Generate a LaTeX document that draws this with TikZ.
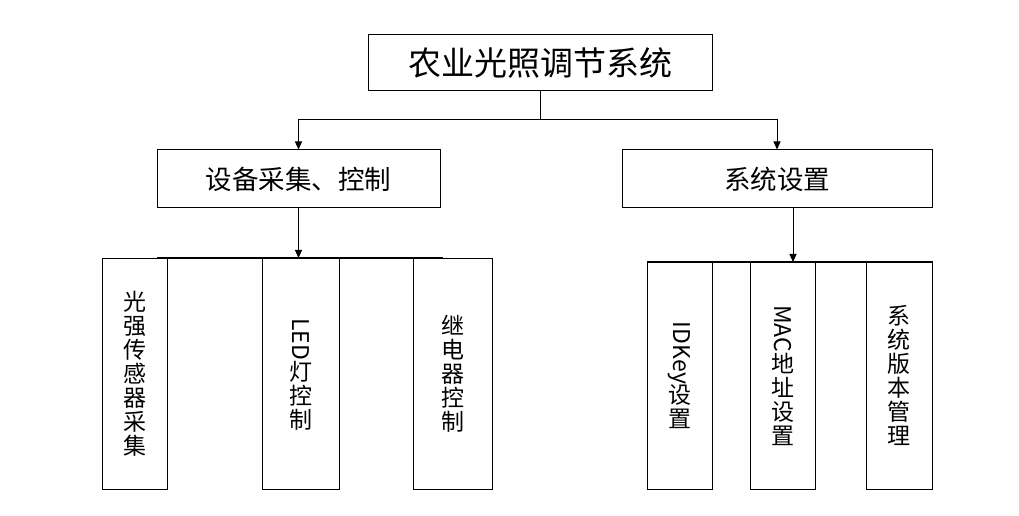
\documentclass[tikz,border=0pt]{standalone}
\usepackage{fontspec}
\usepackage{graphicx}
\newfontfamily\cjk{Noto Sans CJK SC}
\usetikzlibrary{arrows.meta}

\begin{document}
\begin{tikzpicture}[x = 1bp, y = -1bp]
\tikzstyle{BoxStyle}=[shape = rectangle,
                      draw,
                      line width = 1bp,
                      inner sep = 0pt]
\tikzstyle{LeafStyle}=[BoxStyle, align = center,
                       font = \cjk\fontsize{23bp}{24bp}\selectfont]
\tikzstyle{post}=[-{Triangle[length = 8bp, width = 7bp]}, line width = 1bp]
\useasboundingbox (0,0) rectangle (1019,516);
\node[BoxStyle, minimum width = 344bp, minimum height = 56bp, font = \cjk\fontsize{33bp}{36bp}\selectfont] (v0) at (540,63) {农业光照调节系统};
\node[BoxStyle, minimum width = 283bp, minimum height = 58bp, font = \cjk\fontsize{26.5bp}{30bp}\selectfont] (v1) at (298.5,179) {设备采集、控制};
\node[BoxStyle, minimum width = 310bp, minimum height = 58bp, font = \cjk\fontsize{26.5bp}{30bp}\selectfont] (v2) at (777,179) {系统设置};
\node[LeafStyle, minimum width = 65bp, minimum height = 230bp] (v3) at (134.5,374) {光\\强\\传\\感\\器\\采\\集};
\node[LeafStyle, minimum width = 77bp, minimum height = 230bp] (v4) at (300.5,374) {\rotatebox{-90}{LED}\\灯\\控\\制};
\node[LeafStyle, minimum width = 79bp, minimum height = 230bp] (v5) at (452.5,374) {继\\电\\器\\控\\制};
\node[LeafStyle, minimum width = 65bp, minimum height = 227bp] (v6) at (679.5,375.5) {\rotatebox{-90}{IDKey}\\设\\置};
\node[LeafStyle, minimum width = 65bp, minimum height = 227bp] (v7) at (782.5,375.5) {\rotatebox{-90}{MAC}\\地\\址\\设\\置};
\node[LeafStyle, minimum width = 66bp, minimum height = 227bp] (v8) at (899,375.5) {系\\统\\版\\本\\管\\理};
\coordinate (s0) at (540,120);
\coordinate (b1l) at (157,258);
\coordinate (b1r) at (443,258);
\coordinate (b2l) at (647,262);
\coordinate (b2r) at (932,262);
\coordinate (b2a) at (793,262);
\draw[line width = 1bp] (v0) -- (s0);
\draw[post] (s0) -| (v1);
\draw[post] (s0) -| (v2);
\draw[line width = 2bp] (b1l) -- (b1r);
\draw[line width = 2bp] (b2l) -- (b2r);
\draw[post] (v1) -- (v1 |- b1l);
\draw[post] (b2a |- v2.south) -- (b2a);
\end{tikzpicture}
\end{document}
